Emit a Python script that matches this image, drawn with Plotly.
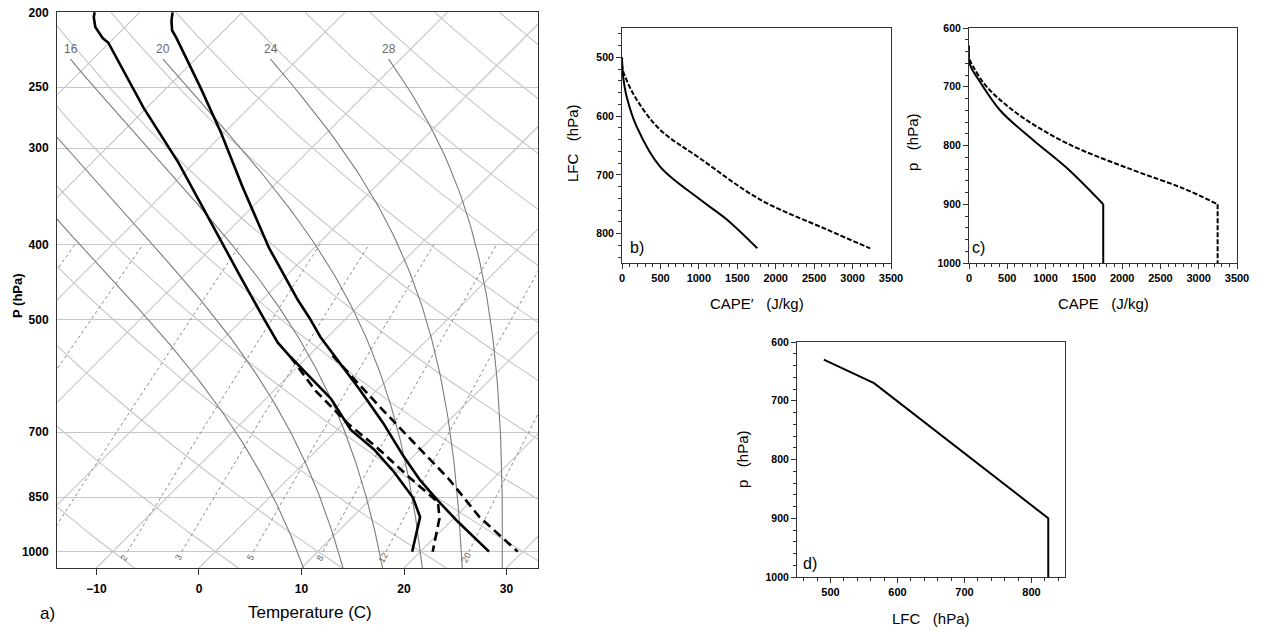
import numpy as np
import plotly.graph_objects as go

# ---------------- data ----------------
# Panel a: sounding profiles (pressure hPa, temperature degC)
pA = [200, 203, 209, 216, 219, 266, 313, 394, 440, 499, 536, 559, 634, 695, 737, 789, 851, 902, 1000]
tA = [-64.4, -64.0, -62.9, -61.1, -60.1, -50.3, -41.6, -30.0, -24.4, -18.0, -14.3, -11.7, -3.6, 1.3, 5.5, 9.7, 14.0, 16.6, 19.2]
pB = [200, 205, 211, 216, 250, 286, 337, 404, 472, 499, 527, 564, 617, 681, 753, 808, 857, 914, 1000]
tB = [-56.8, -56.1, -55.1, -53.9, -46.8, -40.4, -32.9, -24.4, -16.5, -13.5, -10.7, -6.8, -1.7, 3.8, 9.1, 13.0, 16.6, 20.7, 26.7]
pC = [557, 650, 722, 804, 902, 1000]
tC = [-7.7, 2.0, 8.7, 15.6, 22.4, 29.5]
pDd = [559, 619, 681, 736, 798, 863, 905, 1000]
tDd = [-11.7, -5.9, 0.3, 5.9, 11.4, 16.9, 18.6, 21.2]

# background diagram values
isobars = [200, 250, 300, 400, 500, 700, 850, 1000]
isotherms = list(range(-100, 51, 10))
dry_theta = list(range(-30, 151, 10))
moist_thetaw = [8, 12, 16, 20, 24, 28]
mix_ratios = [0.1, 0.2, 0.4, 1, 2, 3, 5, 8, 12, 20]
mix_labels = [2, 3, 5, 8, 12, 20]
temp_ticks = [-10, 0, 10, 20, 30]

# Panel b: LFC vs CAPE'
capeB_solid = [0, 4, 15, 61, 191, 495, 1016, 1363, 1760]
lfcB_solid = [500, 515, 533, 567, 618, 686, 742, 776, 825]
capeB_dash = [0, 8, 61, 191, 495, 1016, 1797, 2665, 3229]
lfcB_dash = [500, 520, 539, 572, 623, 672, 742, 793, 825]

# Panel c: p vs CAPE
capeC_solid = [0, 0, 30, 100, 405, 840, 1275, 1753, 1753]
pC_solid = [630, 655, 668, 683, 740, 791, 838, 900, 1000]
capeC_dash = [0, 0, 56, 231, 623, 1275, 2145, 2798, 3247, 3247]
pC_dash = [630, 650, 666, 700, 745, 796, 842, 873, 900, 1000]

# Panel d: p vs LFC
lfcD = [490, 565, 825, 825]
pD_line = [630, 670, 900, 1000]

# ---------------- skew-T helpers ----------------
PBOT, PTOP = 1050.0, 200.0
XMIN, XMAX = -13.85, 33.07
K = 32.7  # skew (degC per ln p) giving 45 degree isotherms


def skew(T, p):
    T = np.asarray(T, float)
    p = np.asarray(p, float)
    return T + K * np.log(PBOT / p)


def w_gkg(T, p):
    es = 6.112 * np.exp(17.67 * (T - 273.15) / (T - 29.65))
    return 622.0 * es / (p - es)


def os_of(T, p):
    return T * (1000.0 / p) ** 0.286 * np.exp(2.6518986 * w_gkg(T, p) / T)


def tsa(os, p):
    lo = np.full_like(p, 150.0)
    hi = np.full_like(p, 320.0)
    for _ in range(50):
        mid = 0.5 * (lo + hi)
        f = os_of(mid, p) - os
        hi = np.where(f > 0, mid, hi)
        lo = np.where(f > 0, lo, mid)
    return 0.5 * (lo + hi) - 273.15


def td_from_w(w, p):
    e = w * p / (622.0 + w)
    a = np.log(e / 6.112)
    return 243.5 * a / (17.67 - a)


LIGHT = "#c6c6c6"
MID = "#7c7c7c"
FONT = "Liberation Sans, Arial, Helvetica, sans-serif"

fig = go.Figure()


def addline(x, y, color, width, dash="solid", xa="x", ya="y", shape="linear"):
    fig.add_trace(go.Scatter(x=x, y=y, mode="lines", xaxis=xa, yaxis=ya,
                             line=dict(color=color, width=width, dash=dash, shape=shape),
                             hoverinfo="skip", showlegend=False))


# isotherms
for T in isotherms:
    pp = np.array([PBOT, PTOP])
    addline(skew([T, T], pp), pp, LIGHT, 1.1)

# dry adiabats
pgrid = np.linspace(PBOT, PTOP, 120)
for th in dry_theta:
    T = (th + 273.15) * (pgrid / 1000.0) ** 0.2857 - 273.15
    addline(skew(T, pgrid), pgrid, LIGHT, 1.1)

# mixing ratio lines
pm = np.linspace(1000, 400, 60)
for w in mix_ratios:
    addline(skew(td_from_w(w, pm), pm), pm, "#8a8a8a", 1, dash="dot")

# moist (pseudo) adiabats
annots = []
pmo = np.linspace(PBOT, 230.0, 120)
for tw in moist_thetaw:
    os_val = os_of(tw + 273.15, 1000.0)
    tt = tsa(os_val, pmo)
    addline(skew(tt, pmo), pmo, MID, 1.1)
    xl = float(skew(tt[-1], 230.0))
    if XMIN + 1 < xl < XMAX - 1:
        annots.append(dict(x=xl, y=np.log10(223.0), xref="x", yref="y", text=str(tw),
                           showarrow=False, font=dict(family=FONT, size=12, color="#6a6a6a"),
                           xanchor="center", yanchor="middle"))

for w in mix_labels:
    pl = 1018.0
    xl = float(skew(td_from_w(w, pl), pl))
    if XMIN < xl < XMAX:
        annots.append(dict(x=xl, y=np.log10(pl), xref="x", yref="y", text=str(w),
                           showarrow=False, textangle=-62,
                           font=dict(family=FONT, size=9, color="#666666"),
                           xanchor="center", yanchor="middle"))

# profiles
addline(skew(tA, pA), pA, "black", 2.6)
addline(skew(tB, pB), pB, "black", 2.6)
addline(skew(tC, pC), pC, "black", 2.6, dash="9px,5px")
addline(skew(tDd, pDd), pDd, "black", 2.6, dash="9px,5px")

DASH2 = "5px,2px"
# panel b
addline(capeB_solid, lfcB_solid, "black", 2, xa="x2", ya="y2", shape="spline")
addline(capeB_dash, lfcB_dash, "black", 2, dash=DASH2, xa="x2", ya="y2", shape="spline")
# panel c (curved part + vertical part)
addline(capeC_solid[:-1], pC_solid[:-1], "black", 2, xa="x3", ya="y3", shape="spline")
addline(capeC_solid[-2:], pC_solid[-2:], "black", 2, xa="x3", ya="y3")
addline(capeC_dash[:-1], pC_dash[:-1], "black", 2, dash=DASH2, xa="x3", ya="y3", shape="spline")
addline(capeC_dash[-2:], pC_dash[-2:], "black", 2, dash=DASH2, xa="x3", ya="y3")
# panel d
addline(lfcD, pD_line, "black", 2, xa="x4", ya="y4")

W, H = 1261, 630


def px(x):
    return x / W


def py(y):
    return 1 - y / H


def dom_x(a, b):
    return [px(a), px(b)]


def dom_y(top, bot):
    return [py(bot), py(top)]


tickfont_a = dict(family=FONT, size=12, color="black", weight="bold")
tickfont_sx = dict(family=FONT, size=11, color="black", weight="bold")
tickfont_sy = dict(family=FONT, size=10.5, color="black", weight="bold")
axline = dict(showline=True, linecolor="#333", linewidth=1, mirror=True, zeroline=False,
              automargin=False, ticklabeloverflow="allow")


def small_axis(domain, rng, dtick, minor, anchor, tf):
    return dict(domain=domain, range=rng, dtick=dtick, tick0=0, ticks="outside", ticklen=5,
                tickcolor="#333", showgrid=False,
                minor=dict(dtick=minor, ticks="outside", ticklen=3, tickcolor="#333"),
                tickfont=tf, anchor=anchor, **axline)


fig.update_layout(
    width=W, height=H, margin=dict(l=0, r=0, t=0, b=0),
    paper_bgcolor="white", plot_bgcolor="white", showlegend=False,
    xaxis=dict(domain=dom_x(57, 538), range=[XMIN, XMAX], tickvals=temp_ticks,
               ticks="outside", ticklen=6, tickcolor="#333", showgrid=False,
               tickfont=tickfont_a, ticklabelstandoff=4, anchor="y", **axline),
    yaxis=dict(domain=dom_y(12, 568), type="log",
               range=[np.log10(PBOT), np.log10(PTOP) - 0.0004],
               tickvals=isobars, ticktext=[str(v) for v in isobars], ticks="", showgrid=True,
               gridcolor=LIGHT, gridwidth=1.1, tickfont=tickfont_a, ticklabelstandoff=5,
               anchor="x", **axline),
    xaxis2=small_axis(dom_x(622, 891), [0, 3500], 500, 100, "y2", tickfont_sx),
    yaxis2=small_axis(dom_y(28, 263), [850, 450], 100, 20, "x2", tickfont_sy),
    xaxis3=small_axis(dom_x(969, 1237), [0, 3500], 500, 100, "y3", tickfont_sx),
    yaxis3=small_axis(dom_y(28, 263), [1000, 600], 100, 20, "x3", tickfont_sy),
    xaxis4=small_axis(dom_x(797, 1065), [450, 850], 100, 20, "y4", tickfont_sx),
    yaxis4=small_axis(dom_y(342, 577), [1000, 600], 100, 20, "x4", tickfont_sy),
)

NB = "\u00a0"


def ann(x, y, text, size, angle=0, bold=False):
    annots.append(dict(x=px(x), y=py(y), xref="paper", yref="paper", text=text,
                       showarrow=False, textangle=angle, xanchor="center", yanchor="middle",
                       font=dict(family=FONT, size=size, color="black",
                                 weight="bold" if bold else "normal")))


ann(17, 296, "P (hPa)", 13, -90, bold=True)
ann(310, 612, "Temperature (C)", 17)
ann(47, 613, "a)", 17)
ann(573, 143, "LFC" + NB * 3 + "(hPa)", 15, -90)
ann(757, 303, "CAPE\u2032" + NB * 3 + "(J/kg)", 15)
ann(637, 248, "b)", 16)
ann(913, 142, "p" + NB * 3 + "(hPa)", 15, -90)
ann(1103, 303, "CAPE" + NB * 3 + "(J/kg)", 15)
ann(978, 248, "c)", 16)
ann(742, 459, "p" + NB * 3 + "(hPa)", 15, -90)
ann(931, 618, "LFC" + NB * 3 + "(hPa)", 15)
ann(810, 563, "d)", 16)

fig.update_layout(annotations=annots)
# remove the default 8px page margin so the figure fills the window exactly
fig.write_html("out.html", config={"displayModeBar": False},
               post_script="document.body.style.margin='0px';document.body.style.overflow='hidden';")
